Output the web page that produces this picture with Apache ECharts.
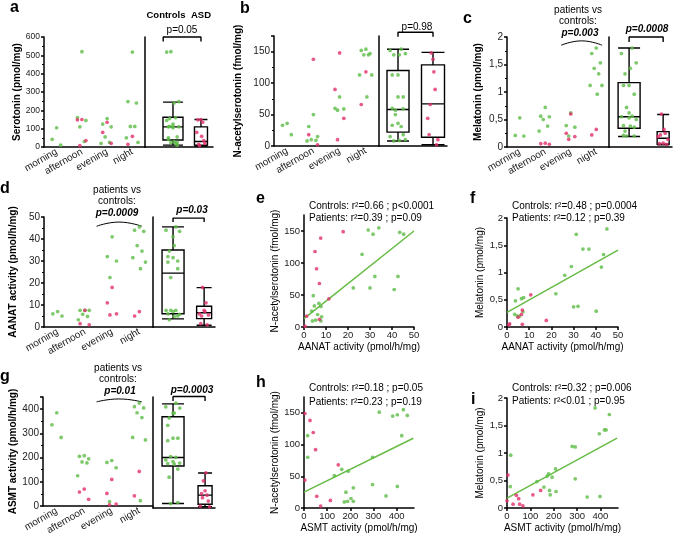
<!DOCTYPE html>
<html lang="en">
<head>
<meta charset="UTF-8">
<title>Serotonin - melatonin pathway</title>
<script src="https://cdn.jsdelivr.net/npm/echarts@6/dist/echarts.min.js"></script>
<style>
    *{margin:0;padding:0;}
    html,body{width:100%;height:100%;overflow:hidden;background:#fff;}
    #chart{width:675px;height:537px;}
</style>
</head>
<body>
<div id="chart"></div>
<script>
// ---- values ----
const times = ['morning', 'afternoon', 'evening', 'night'];

// a: serotonin (pmol/mg), one list per time of day
const serotoninCtrl = [[105, 42, 10], [520, 160, 145, 110, 30], [155, 125, 110, 55, 25, 20], [518, 248, 240, 112, 112, 50, 25]];
const serotoninAsd = [[], [150, 148, 35, 8], [135, 80, 20], [58, 15]];
const serotoninBoxCtrl = [10, 38, 110, 162, 245];   // min, Q1, median, Q3, max
const serotoninBoxAsd = [5, 10, 30, 110, 150];

// b: N-acetylserotonin (fmol/mg)
const nasCtrl = [[36, 33, 18], [50, 31, 15, 10, 9, 8], [78, 60, 59, 57], [154, 152, 147, 145, 145, 113, 113, 78]];
const nasAsd = [[], [138, 18, 2], [148, 90, 44, 10], [118, 66]];
const nasBoxCtrl = [8, 22, 58, 120, 154];
const nasBoxAsd = [2, 14, 67, 129, 149];

// c: melatonin (pmol/mg)
const melCtrl = [[0.53, 0.21, 0.2], [0.72, 0.56, 0.55, 0.5, 0.38, 0.29], [0.62, 0.39, 0.36, 0.2], [1.8, 1.7, 1.53, 1.43, 1.33, 1.12, 1.12, 0.96]];
const melAsd = [[], [0.07, 0.06, 0.05], [0.6, 0.25, 0.19, 0.14], [0.32, 0.22]];
const melBoxCtrl = [0.19, 0.34, 0.55, 1.17, 1.8];
const melBoxAsd = [0.04, 0.05, 0.16, 0.28, 0.59];

// d: AANAT activity (pmol/h/mg)
const aanatCtrl = [[7, 6, 5], [7.6, 7.6, 7.6, 5.8, 4.8, 3.3], [41, 32, 30, 22.5], [45.5, 44, 43.5, 37, 34.5, 31.5, 29.5, 26.5]];
const aanatAsd = [[], [7.6, 1.5, 1], [18, 11, 6, 5.5], [7, 5]];
const aanatBoxCtrl = [3.7, 6, 24.5, 35, 45.5];
const aanatBoxAsd = [0.8, 3.8, 6.5, 9.4, 17.9];

// g: ASMT activity (pmol/h/mg)
const asmtCtrl = [[385, 335, 283], [208, 205, 195, 182, 178, 125], [188, 180, 158, 18], [425, 410, 405, 385, 365, 283, 273, 22]];
const asmtAsd = [[], [70, 58, 28], [110, 52, 8, 5], [143, 42]];
const asmtBoxCtrl = [18, 170, 205, 370, 422];
const asmtBoxAsd = [5, 15, 52, 90, 142];

// e: AANAT vs N-acetylserotonin
const eCtrl = [[4.2, 49], [4.7, 33], [6.8, 37], [7.7, 32], [3.5, 25], [6.2, 19.5], [8, 16], [3.8, 9.5], [5.3, 10.6], [7.7, 9.5], [22.4, 61], [26.4, 113.6], [29.2, 151.6], [31.4, 145], [34, 155], [32.2, 79], [30, 61], [41, 58.6], [42.7, 79], [43.5, 148], [45.3, 145]];
const eAsd = [[1.2, 17], [0.5, 1], [5, 118], [5.7, 91], [7, 68], [7.6, 139], [7, 12], [11.3, 44], [17.8, 149]];
const eFit = [[0, 13], [50, 150]];

// f: AANAT vs melatonin
const fCtrl = [[31.2, 1.7], [45, 1.8], [34.2, 1.43], [36.9, 1.43], [43.5, 1.33], [29, 1.11], [42.5, 1.1], [26, 0.95], [22, 0.61], [5, 0.7], [6.5, 0.52], [7.5, 0.54], [3.8, 0.48], [3.5, 0.23], [7.2, 0.28], [5.7, 0.2], [4.7, 0.2], [30, 0.37], [32, 0.38], [40.2, 0.29]];
const fAsd = [[10.7, 0.59], [6.9, 0.31], [6.5, 0.23], [5, 0.18], [6.9, 0.05], [0.9, 0.04], [1.2, 0.06], [17.7, 0.12]];
const fFit = [[0, 0.27], [50, 1.41]];

// h: ASMT vs N-acetylserotonin
const hCtrl = [[16, 114], [16, 80], [131, 51], [163, 61], [191, 58], [174, 9.5], [188, 10.6], [203, 15], [213, 10.6], [213, 31.8], [181, 25], [296, 80], [296, 37], [325, 151], [383, 145], [403, 147], [429, 155], [446, 146], [422, 114], [403, 34], [354, 19]];
const hAsd = [[4, 149], [26, 138], [40, 119], [50, 92], [4, 44], [55, 18.5], [72, 3], [114, 12], [148, 68]];
const hFit = [[0, 25], [472, 110]];

// i: ASMT vs melatonin
const iCtrl = [[16, 0.96], [14, 0.39], [128, 0.48], [158, 0.38], [172, 0.58], [178, 0.62], [182, 0.32], [185, 0.24], [193, 0.56], [208, 0.71], [210, 0.3], [279, 1.12], [292, 1.11], [292, 0.53], [343, 0.2], [395, 1.35], [417, 1.42], [424, 1.42], [377, 1.82], [438, 1.7], [398, 0.21]];
const iAsd = [[4, 0.6], [0, 0.13], [26, 0.07], [40, 0.23], [50, 0.17], [54, 0.07], [68, 0.04], [111, 0.24], [144, 0.32]];
const iFit = [[0, 0.18], [471, 1.27]];

// ---- drawing ----
const FONT = '"Liberation Sans", Arial, sans-serif';
const GREEN = '#5dbb46';
const RED = '#e2306a';
const LINE = {color: '#000', width: 1.5};
const jitter = [0, -0.22, 0.2, -0.1, 0.12, -0.3, 0.28, 0.05, -0.16];

let grids = [], xAxes = [], yAxes = [], series = [], texts = [];

function jit(j, k) { return jitter[j % jitter.length] * k; }
function comma(v) { return String(v).replace('.', ','); }

function dots(data, color, xi, yi) {
    series.push({
        type: 'scatter', xAxisIndex: xi, yAxisIndex: yi, data: data,
        symbolSize: 3.7, itemStyle: {color: color}, z: 4, silent: true
    });
}

function yAxisFor(g, p, fs) {
    return {
        gridIndex: g, type: 'value', min: 0, max: p.ymax, interval: p.yint,
        name: p.yName, nameLocation: 'middle', nameGap: p.nameGap,
        nameTextStyle: {fontFamily: FONT, fontSize: 10, fontWeight: p.bold ? 'bold' : 'normal', color: '#000'},
        axisLine: {show: true, onZero: false, lineStyle: LINE},
        axisTick: {show: true, length: 3, lineStyle: LINE},
        minorTick: {show: p.minor, splitNumber: 2, length: 2, lineStyle: {color: '#000', width: 1}},
        splitLine: {show: false},
        axisLabel: {
            fontFamily: FONT, fontSize: fs, color: '#222', margin: 4,
            showMaxLabel: p.showMax !== false,
            formatter: p.comma ? comma : null
        }
    };
}

function timePanel(p) {
    // left part: values per time of day
    const g = grids.length;
    grids.push({left: p.x0, top: p.top, width: p.x1 - p.x0, height: p.bottom - p.top});
    xAxes.push({
        gridIndex: g, type: 'category', data: times, boundaryGap: true,
        axisLine: {lineStyle: LINE}, axisTick: {show: false},
        axisLabel: {rotate: 30, interval: 0, fontFamily: FONT, fontSize: 10, color: '#222', margin: 4}
    });
    const xv = xAxes.length;
    xAxes.push({gridIndex: g, type: 'value', min: 0, max: 4, show: false});
    const yi = yAxes.length;
    yAxes.push(yAxisFor(g, Object.assign({bold: true, minor: true}, p), p.fs));

    const spread = groups => {
        const out = [];
        groups.forEach((vals, k) => vals.forEach((v, j) => out.push([k + 0.5 + jit(j, 0.8), v])));
        return out;
    };
    dots(spread(p.ctrl), GREEN, xv, yi);
    dots(spread(p.asd), RED, xv, yi);

    if (p.arc) {
        series.push({
            type: 'line', xAxisIndex: xv, yAxisIndex: yi, data: p.arc, smooth: true,
            symbol: 'none', clip: false, silent: true, lineStyle: {color: '#000', width: 1}
        });
    }

    // right part: box plots, controls vs ASD
    const g2 = grids.length;
    grids.push({left: p.x1, top: p.top, width: p.x2 - p.x1, height: p.bottom - p.top});
    const xb = xAxes.length;
    xAxes.push({
        gridIndex: g2, type: 'value', min: p.bmin, max: p.bmax,
        axisLine: {show: true, onZero: false, lineStyle: LINE},
        axisTick: {show: false}, axisLabel: {show: false}, splitLine: {show: false}
    });
    xAxes.push({gridIndex: g2, type: 'value', min: p.bmin, max: p.bmax, show: false});
    const yb = yAxes.length;
    yAxes.push({
        gridIndex: g2, type: 'value', min: 0, max: p.ymax,
        axisLine: {show: true, onZero: false, lineStyle: LINE},
        axisTick: {show: false}, axisLabel: {show: false}, splitLine: {show: false}
    });
    const boxStyle = {color: 'rgba(0,0,0,0)', borderColor: '#000', borderWidth: 1.4};
    series.push({
        type: 'boxplot', layout: 'horizontal', xAxisIndex: xb, yAxisIndex: yb,
        boxWidth: [p.bw[0], p.bw[0]], data: [[1].concat(p.boxCtrl)], itemStyle: boxStyle, silent: true
    });
    series.push({
        type: 'boxplot', layout: 'horizontal', xAxisIndex: xb + 1, yAxisIndex: yb,
        boxWidth: [p.bw[1], p.bw[1]], data: [[2].concat(p.boxAsd)], itemStyle: boxStyle, silent: true
    });
    dots(p.ctrl.flat().map((v, j) => [1 + jit(j, 0.75), v]), GREEN, xb, yb);
    dots(p.asd.flat().map((v, j) => [2 + jit(j, 0.5), v]), RED, xb, yb);

    const b = p.bracket;
    series.push({
        type: 'line', xAxisIndex: xb, yAxisIndex: yb, symbol: 'none', clip: false, silent: true,
        data: [[b[0], b[2]], [b[0], b[3]], [b[1], b[3]], [b[1], b[2]]],
        lineStyle: {color: '#000', width: 1.4}
    });
}

function scatterPanel(p) {
    const g = grids.length;
    grids.push({left: p.x0, top: p.top, width: p.x1 - p.x0, height: p.bottom - p.top});
    const xi = xAxes.length;
    xAxes.push({
        gridIndex: g, type: 'value', min: 0, max: p.xmax, interval: p.xint,
        name: p.xName, nameLocation: 'middle', nameGap: 15,
        nameTextStyle: {fontFamily: FONT, fontSize: 10, color: '#000'},
        axisLine: {show: true, onZero: false, lineStyle: LINE},
        axisTick: {show: true, length: 3, lineStyle: LINE},
        splitLine: {show: false},
        axisLabel: {fontFamily: FONT, fontSize: 9.5, color: '#222', margin: 3, showMaxLabel: p.xmax % p.xint === 0}
    });
    const yi = yAxes.length;
    yAxes.push(yAxisFor(g, Object.assign({bold: false, minor: false}, p), 9.5));
    dots(p.ctrl, GREEN, xi, yi);
    dots(p.asd, RED, xi, yi);
    series.push({
        type: 'line', xAxisIndex: xi, yAxisIndex: yi, data: p.fit, symbol: 'none', silent: true,
        lineStyle: {color: '#66bb44', width: 1.5}, z: 3
    });
}

function label(t, x, y, font, align) {
    texts.push({
        type: 'text', x: x, y: y, silent: true,
        style: {text: t, font: font, fill: '#000', align: align || 'center', verticalAlign: 'middle',
                textAlign: align || 'center', textVerticalAlign: 'middle'}
    });
}

const LETTER = 'bold 16px ' + FONT;
const NORMAL = '10px ' + FONT;
const BOLD = 'bold 9.5px ' + FONT;
const BOLDIT = 'italic bold 10px ' + FONT;

timePanel({x0: 44, x1: 145, x2: 213, top: 37, bottom: 147, ymax: 600, yint: 100, fs: 8.5,
    yName: 'Serotonin (pmol/mg)', nameGap: 22, ctrl: serotoninCtrl, asd: serotoninAsd,
    boxCtrl: serotoninBoxCtrl, boxAsd: serotoninBoxAsd, bmin: 0, bmax: 2.43, bw: [20, 13],
    bracket: [0.65, 2, 575, 600]});
timePanel({x0: 274, x1: 379, x2: 447, top: 36, bottom: 146, ymax: 175, yint: 50, fs: 10, showMax: false,
    yName: 'N-acetylserotonin (fmol/mg)', nameGap: 31, ctrl: nasCtrl, asd: nasAsd,
    boxCtrl: nasBoxCtrl, boxAsd: nasBoxAsd, bmin: 0.457, bmax: 2.4, bw: [22, 23],
    bracket: [1, 2, 174, 181]});
timePanel({x0: 507, x1: 609, x2: 672, top: 37, bottom: 147, ymax: 2, yint: 0.5, fs: 10, comma: true,
    yName: 'Melatonin (pmol/mg)', nameGap: 24, ctrl: melCtrl, asd: melAsd,
    boxCtrl: melBoxCtrl, boxAsd: melBoxAsd, bmin: 0.41, bmax: 2.26, bw: [22, 12],
    bracket: [1, 2, 1.91, 2.0], arc: [[2.12, 1.85], [2.93, 1.93], [3.73, 1.85]]});
timePanel({x0: 44, x1: 153, x2: 215, top: 217, bottom: 327, ymax: 50, yint: 10, fs: 10,
    yName: 'AANAT activity (pmol/h/mg)', nameGap: 26, ctrl: aanatCtrl, asd: aanatAsd,
    boxCtrl: aanatBoxCtrl, boxAsd: aanatBoxAsd, bmin: 0.355, bmax: 2.35, bw: [22, 15],
    bracket: [1, 2, 47.7, 49.5], arc: [[1.93, 45.8], [2.75, 47.7], [3.59, 45.8]]});
timePanel({x0: 43, x1: 153, x2: 215, top: 397, bottom: 508, ymax: 450, yint: 100, fs: 10, showMax: false,
    yName: 'ASMT activity (pmol/h/mg)', nameGap: 23, ctrl: asmtCtrl, asd: asmtAsd,
    boxCtrl: asmtBoxCtrl, boxAsd: asmtBoxAsd, bmin: 0.375, bmax: 2.31, bw: [22, 14],
    bracket: [1, 2, 434, 452], arc: [[1.95, 430], [2.76, 442], [3.59, 430]]});

scatterPanel({x0: 304, x1: 414, top: 215, bottom: 327, xmax: 50, xint: 10, ymax: 175, yint: 50, showMax: false,
    xName: 'AANAT activity (pmol/h/mg)', yName: 'N-acetylserotonin (fmol/mg)', nameGap: 22,
    ctrl: eCtrl, asd: eAsd, fit: eFit});
scatterPanel({x0: 507, x1: 618, top: 218, bottom: 327, xmax: 50, xint: 10, ymax: 2, yint: 0.5, comma: true,
    xName: 'AANAT activity (pmol/h/mg)', yName: 'Melatonin (pmol/mg)', nameGap: 22,
    ctrl: fCtrl, asd: fAsd, fit: fFit});
scatterPanel({x0: 304, x1: 414, top: 397, bottom: 508, xmax: 475, xint: 100, ymax: 175, yint: 50, showMax: false,
    xName: 'ASMT activity (pmol/h/mg)', yName: 'N-acetylserotonin (fmol/mg)', nameGap: 22,
    ctrl: hCtrl, asd: hAsd, fit: hFit});
scatterPanel({x0: 507, x1: 618, top: 398, bottom: 508, xmax: 475, xint: 100, ymax: 2, yint: 0.5, comma: true,
    xName: 'ASMT activity (pmol/h/mg)', yName: 'Melatonin (pmol/mg)', nameGap: 22,
    ctrl: iCtrl, asd: iAsd, fit: iFit});

// panel letters and annotations
label('a', 10, 8, LETTER, 'left');
label('b', 240, 9, LETTER, 'left');
label('c', 463, 19, LETTER, 'left');
label('d', 0, 189, LETTER, 'left');
label('e', 256, 199, LETTER, 'left');
label('f', 470, 199, LETTER, 'left');
label('g', 0, 377, LETTER, 'left');
label('h', 256, 383, LETTER, 'left');
label('i', 471, 400, LETTER, 'left');

label('Controls', 166, 15, BOLD);
label('ASD', 201, 15, BOLD);
label('p=0.05', 182, 30, NORMAL);
label('p=0.98', 417, 27, NORMAL);

label('patients vs', 578, 10, NORMAL);
label('controls:', 578, 21, NORMAL);
label('p=0.003', 580, 33, BOLDIT);
label('p=0.0008', 647, 29, BOLDIT);

label('patients vs', 117, 190, NORMAL);
label('controls:', 117, 201, NORMAL);
label('p=0.0009', 117, 213, BOLDIT);
label('p=0.03', 192, 210, BOLDIT);

label('patients vs', 118, 368, NORMAL);
label('controls:', 118, 379, NORMAL);
label('p=0.01', 120, 391, BOLDIT);
label('p=0.0003', 192, 390, BOLDIT);

label('Controls: r\u00b2=0.66 ; p<0.0001', 309, 206, NORMAL, 'left');
label('Patients: r\u00b2=0.39 ; p=0.09', 309, 218, NORMAL, 'left');
label('Controls: r\u00b2=0.48 ; p=0.0004', 512, 206, NORMAL, 'left');
label('Patients: r\u00b2=0.12 ; p=0.39', 512, 218, NORMAL, 'left');
label('Controls: r\u00b2=0.18 ; p=0.05', 309, 388, NORMAL, 'left');
label('Patients: r\u00b2=0.23 ; p=0.19', 309, 402, NORMAL, 'left');
label('Controls: r\u00b2=0.32 ; p=0.006', 512, 388, NORMAL, 'left');
label('Patients: r\u00b2<0.01 ; p=0.95', 512, 401, NORMAL, 'left');

let chart = echarts.init(document.getElementById('chart'));
chart.setOption({
    backgroundColor: '#fff',
    animation: false,
    grid: grids,
    xAxis: xAxes,
    yAxis: yAxes,
    series: series,
    graphic: texts
});
</script>
</body>
</html>
